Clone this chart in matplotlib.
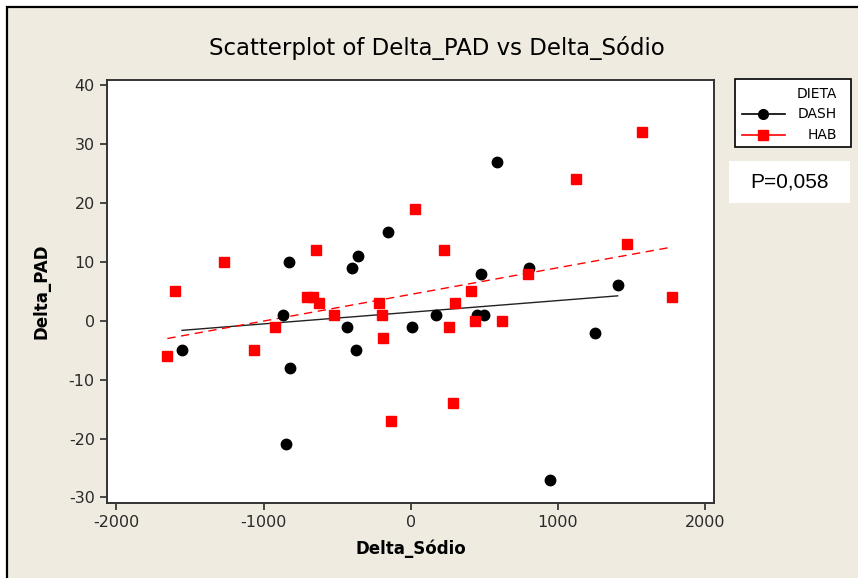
import numpy as np
import matplotlib
matplotlib.use('Agg')
from matplotlib import pyplot as plt
from matplotlib.patches import Rectangle
from matplotlib.lines import Line2D

plt.rcParams['axes.unicode_minus'] = False

# DASH group (black circles)
dash_sodio = [-1554, -870, -830, -821, -848, -431, -400, -361, -372, -157,
              8, 171, 452, 497, 477, 588, 803, 946, 1253, 1405]
dash_pad = [-5, 1, 10, -8, -21, -1, 9, 11, -5, 15,
            -1, 1, 1, 1, 8, 27, 9, -27, -2, 6]

# HAB group (red squares)
hab_sodio = [-1654, -1604, -1268, -1065, -920, -707, -662, -644, -624, -522,
             -218, -196, -187, -135, 28, 223, 262, 285, 302, 407,
             436, 620, 794, 1120, 1467, 1569, 1774]
hab_pad = [-6, 5, 10, -5, -1, 4, 4, 12, 3, 1,
           3, 1, -3, -17, 19, 12, -1, -14, 3, 5,
           0, 0, 8, 24, 13, 32, 4]

x_ticks = [-2000, -1000, 0, 1000, 2000]
y_ticks = [-30, -20, -10, 0, 10, 20, 30, 40]

BG = '#efebe0'
W, H = 858, 578

fig = plt.figure(figsize=(W / 100, H / 100), dpi=100)
fig.patch.set_facecolor('white')
frame = Rectangle((6.5 / W, -0.05), 1.1, 1 - 6.5 / H + 0.05, transform=fig.transFigure,
                  facecolor=BG, edgecolor='black', linewidth=1.6, zorder=-10)
fig.add_artist(frame)

ax = fig.add_axes([107.3 / W, 1 - 502.7 / H, (714 - 107.3) / W, (502.7 - 80) / H])
ax.set_facecolor('white')

ax.plot(dash_sodio, dash_pad, 'o', color='black', markersize=7.5, zorder=3)
ax.plot(hab_sodio, hab_pad, 's', color='#ff0000', markersize=7.5, zorder=3)

# least squares fit per group
for xs, ys, c, ls in [(dash_sodio, dash_pad, '#222222', '-'), (hab_sodio, hab_pad, '#ff0000', (0, (6, 4)))]:
    xs = np.array(xs, dtype=float)
    b, a = np.polyfit(xs, ys, 1)
    xx = np.array([xs.min(), xs.max()])
    ax.plot(xx, a + b * xx, color=c, linestyle=ls, linewidth=1.0, zorder=2)

ax.set_xlim(-2062, 2060)
ax.set_ylim(-30.9, 40.9)
ax.set_xticks(x_ticks)
ax.set_yticks(y_ticks)
ax.tick_params(direction='out', length=5, width=1.2, colors='#2a2a2a', labelsize=11.5, pad=4)
for s in ax.spines.values():
    s.set_linewidth(1.4)
    s.set_color('#333333')

ax.set_xlabel('Delta_Sódio', fontsize=12, fontweight='bold', labelpad=7)
ax.set_ylabel('Delta_PAD', fontsize=12, fontweight='bold', labelpad=13)
fig.text(437 / W, 1 - 48 / H, 'Scatterplot of Delta_PAD vs Delta_Sódio', ha='center', va='center',
         fontsize=16.5)

# legend box
fig.add_artist(Rectangle((734.7 / W, 1 - 147.3 / H), 116 / W, 68 / H, transform=fig.transFigure,
                         facecolor='white', edgecolor='black', linewidth=1.2))
fig.text(837 / W, 1 - 94 / H, 'DIETA', ha='right', va='center', fontsize=10)
fig.text(837 / W, 1 - 114 / H, 'DASH', ha='right', va='center', fontsize=10)
fig.text(837 / W, 1 - 135 / H, 'HAB', ha='right', va='center', fontsize=10)
fig.add_artist(Line2D([742 / W, 785 / W], [1 - 114 / H] * 2, transform=fig.transFigure,
                      color='black', linewidth=1.2))
fig.add_artist(Line2D([763 / W], [1 - 114 / H], transform=fig.transFigure, color='black',
                      marker='o', markersize=7))
fig.add_artist(Line2D([742 / W, 785 / W], [1 - 135 / H] * 2, transform=fig.transFigure,
                      color='#ff0000', linewidth=1.2))
fig.add_artist(Line2D([763 / W], [1 - 135 / H], transform=fig.transFigure, color='#ff0000',
                      marker='s', markersize=7))

# p-value box
fig.add_artist(Rectangle((728.7 / W, 1 - 202.7 / H), 121.3 / W, 42 / H, transform=fig.transFigure,
                         facecolor='white', edgecolor='none'))
fig.text(789 / W, 1 - 182 / H, 'P=0,058', ha='center', va='center', fontsize=15,
         family='Liberation Sans')

fig.savefig('out.png', dpi=100, facecolor=fig.get_facecolor())
